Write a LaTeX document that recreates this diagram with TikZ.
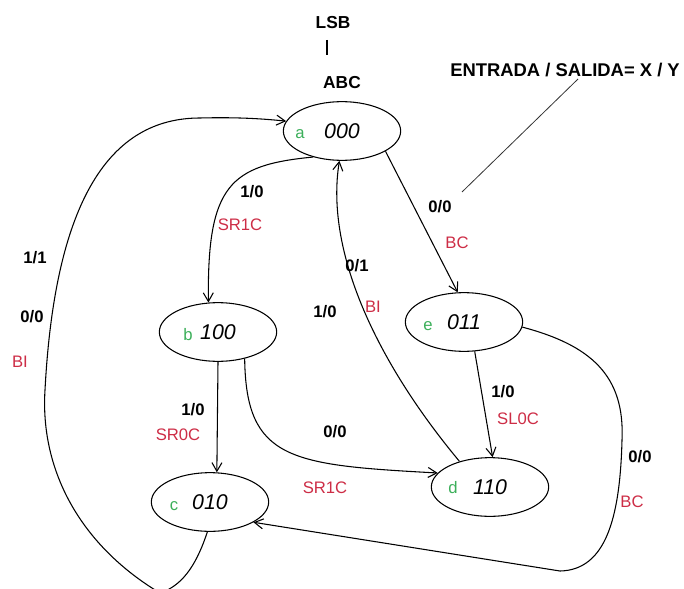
\documentclass[tikz,border=0pt]{standalone}
\usepackage{fontspec}
\setmainfont{Liberation Sans}
\usepackage{xcolor}
\usetikzlibrary{arrows.meta,calc,shapes.geometric}
\definecolor{outred}{RGB}{205,45,70}
\definecolor{tagcol}{RGB}{60,175,90}

\begin{document}
\begin{tikzpicture}[>={Straight Barb[length=6.5pt,width=7.5pt]}, line width=0.8pt, x=0.75pt, y=-0.75pt,
  state/.style={ellipse, draw, minimum width=88pt, minimum height=44pt, inner sep=0pt,
    font=\fontsize{16}{16}\selectfont\itshape},
  tag/.style={font=\fontsize{12.5}{12.5}\selectfont, text=tagcol, inner sep=1pt},
  io/.style={font=\fontsize{12.5}{12.5}\selectfont\bfseries, inner sep=1pt},
  act/.style={font=\fontsize{12.5}{12.5}\selectfont, text=outred, inner sep=1pt},
  head/.style={font=\fontsize{13}{13}\selectfont\bfseries, inner sep=1pt}]
  \clip (0,0) rectangle (684,588);
  \node[head] (lsb) at (333,23) {LSB};
  \node[head] (abc) at (342,83) {ABC};
  \node[head, font=\fontsize{13.8}{13.8}\selectfont\bfseries] (note) at (565,70) {ENTRADA / SALIDA= X / Y};
  \coordinate (tick-top) at (327,40);
  \coordinate (tick-bot) at (327,55);
  \draw (tick-top) -- (tick-bot);
  \coordinate (note-start) at (578,79);
  \coordinate (note-end) at (462,192);
  \draw[line width=0.6pt, black!80] (note-start) -- (note-end);

  \node[state] (a) at (342,131) {000};
  \node[state] (b) at (218,332) {100};
  \node[state] (e) at (464,322) {011};
  \node[state] (d) at (490,487) {110};
  \node[state] (c) at (210,502) {010};
  \node[tag] (a-tag) at ($(a)+(-42,3)$) {a};
  \node[tag] (b-tag) at ($(b)+(-30,3)$) {b};
  \node[tag] (e-tag) at ($(e)+(-36,4)$) {e};
  \node[tag] (d-tag) at ($(d)+(-37,1)$) {d};
  \node[tag] (c-tag) at ($(c)+(-36,4)$) {c};

  \draw[->] (a.222) .. controls (230,165) and (207,185) .. (b.108);
  \draw[->] (a.-25) -- (e.102);
  \draw[->] (d.140) .. controls (375,360) and (325,250) .. (a.265);
  \draw[->] (e.-70) -- (d.85);
  \draw[->] (b.-90) -- (c.77);
  \draw[->] (b.-45) .. controls (246,460) and (290,465) .. (d.165);
  \draw[->] (e.-5) .. controls (590,345) and (625,375) .. (622,440)
    .. controls (620,520) and (605,570) .. (560,571) -- (c.-25);
  \draw[->] (c.-95) .. controls (198,560) and (185,585) .. (160,593)
    .. controls (80,545) and (40,470) .. (45,390)
    .. controls (55,200) and (110,118) .. (200,118)
    .. controls (240,117) and (265,119) .. (a.170);

  \node[io] (ab-io) at (252,192) {1/0};
  \node[act] (ab-act) at (240,225) {SR1C};
  \node[io] (ca-io1) at (35,258) {1/1};
  \node[io] (ca-io2) at (32,317) {0/0};
  \node[act] (ca-act) at (20,362) {BI};
  \node[io] (ae-io) at (440,207) {0/0};
  \node[act] (ae-act) at (457,243) {BC};
  \node[io] (da-io1) at (357,266) {0/1};
  \node[io] (da-io2) at (325,312) {1/0};
  \node[act] (da-act) at (373,307) {BI};
  \node[io] (ed-io) at (503,392) {1/0};
  \node[act] (ed-act) at (518,419) {SL0C};
  \node[io] (bc-io) at (193,410) {1/0};
  \node[act] (bc-act) at (178,435) {SR0C};
  \node[io] (bd-io) at (335,432) {0/0};
  \node[act] (bd-act) at (325,488) {SR1C};
  \node[io] (ec-io) at (640,457) {0/0};
  \node[act] (ec-act) at (632,502) {BC};
\end{tikzpicture}
\end{document}
